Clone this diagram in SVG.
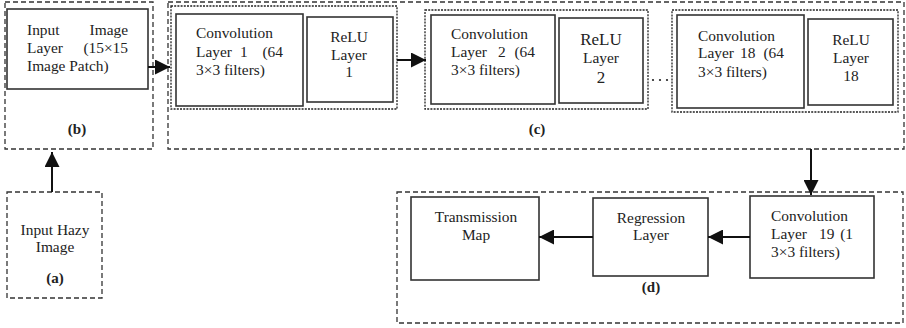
<svg xmlns="http://www.w3.org/2000/svg" width="906" height="328" viewBox="0 0 906 328">
<defs>
<style>
.t{font-family:"Liberation Serif","Times New Roman",serif;font-size:15.4px;fill:#222}
.m{text-anchor:middle}
.e{text-anchor:end}
.b{font-weight:bold;font-size:15px}
.box{fill:#fff;stroke:#333;stroke-width:1.6}
.dash{fill:none;stroke:#333;stroke-width:1.3;stroke-dasharray:5 3}
.dot{fill:none;stroke:#222;stroke-width:1.3;stroke-dasharray:2 1.2}
.ln{fill:none;stroke:#111;stroke-width:2}
</style>
<marker id="ah" markerUnits="userSpaceOnUse" markerWidth="15" markerHeight="15" refX="15" refY="7.5" orient="auto">
<path d="M0,0 L15,7.5 L0,15 z" fill="#111"/>
</marker>
</defs>
<rect width="906" height="328" fill="#fff"/>

<g id="group-b">
<rect class="dash" x="5" y="2" width="148" height="147"/>
<text class="t b m" x="77" y="134">(b)</text>
</g>
<g id="group-c">
<rect class="dash" x="168" y="2" width="736" height="147"/>
<text class="t b m" x="537" y="134">(c)</text>
</g>
<g id="group-d">
<rect class="dash" x="397" y="192" width="506" height="131"/>
<text class="t b m" x="651" y="292">(d)</text>
</g>

<g id="node-a">
<rect class="dash" x="7" y="192" width="95" height="106"/>
<text class="t m" x="55" y="235">Input Hazy</text>
<text class="t m" x="55" y="252">Image</text>
<text class="t b m" x="55" y="283">(a)</text>
</g>

<g id="node-input">
<rect class="box" x="7" y="9" width="141" height="80"/>
<text class="t" x="27" y="35">Input</text>
<text class="t e" x="128" y="35">Image</text>
<text class="t" x="27" y="53">Layer</text>
<text class="t e" x="128" y="53">(15×15</text>
<text class="t" x="27" y="71">Image Patch)</text>
</g>

<g id="block-1">
<rect class="dot" x="171" y="6" width="226" height="103"/>
<g id="conv1">
<rect class="box" x="176" y="14" width="127" height="92"/>
<text class="t" x="196" y="38">Convolution</text>
<text class="t" x="196" y="57">Layer</text>
<text class="t" x="240" y="57">1</text>
<text class="t e" x="283" y="57">(64</text>
<text class="t" x="196" y="75">3×3 filters)</text>
</g>
<g id="relu1">
<rect class="box" x="307" y="17" width="86" height="85"/>
<text class="t m" x="349" y="42">ReLU</text>
<text class="t m" x="349" y="60">Layer</text>
<text class="t m" x="349" y="77">1</text>
</g>
</g>

<g id="block-2">
<rect class="dot" x="425" y="10" width="223" height="99"/>
<g id="conv2">
<rect class="box" x="431" y="15" width="124" height="89"/>
<text class="t" x="451" y="39">Convolution</text>
<text class="t" x="451" y="57">Layer</text>
<text class="t" x="498" y="57">2</text>
<text class="t e" x="535" y="57">(64</text>
<text class="t" x="451" y="75">3×3 filters)</text>
</g>
<g id="relu2">
<rect class="box" x="559" y="18" width="84" height="85"/>
<text class="t m" x="601" y="45" style="font-size:17px">ReLU</text>
<text class="t m" x="601" y="63">Layer</text>
<text class="t m" x="601" y="83" style="font-size:17px">2</text>
</g>
</g>

<g id="ellipsis">
<circle cx="653" cy="80" r="1.1" fill="#222"/>
<circle cx="660" cy="80" r="1.1" fill="#222"/>
<circle cx="667" cy="80" r="1.1" fill="#222"/>
</g>

<g id="block-18">
<rect class="dot" x="672" y="10" width="226" height="102"/>
<g id="conv18">
<rect class="box" x="677" y="15" width="127" height="93"/>
<text class="t" x="698" y="41">Convolution</text>
<text class="t" x="698" y="58">Layer</text>
<text class="t" x="740" y="58">18</text>
<text class="t e" x="784" y="58">(64</text>
<text class="t" x="698" y="77">3×3 filters)</text>
</g>
<g id="relu18">
<rect class="box" x="808" y="19" width="85" height="86"/>
<text class="t m" x="851" y="45">ReLU</text>
<text class="t m" x="851" y="63">Layer</text>
<text class="t m" x="851" y="81">18</text>
</g>
</g>

<g id="conv19">
<rect class="box" x="750" y="196" width="124" height="82"/>
<text class="t" x="771" y="221">Convolution</text>
<text class="t" x="771" y="239">Layer</text>
<text class="t" x="819" y="239">19</text>
<text class="t e" x="853" y="239">(1</text>
<text class="t" x="771" y="257">3×3 filters)</text>
</g>
<g id="regression">
<rect class="box" x="593" y="198" width="115" height="78"/>
<text class="t m" x="651" y="223">Regression</text>
<text class="t m" x="651" y="240">Layer</text>
</g>
<g id="transmission">
<rect class="box" x="411" y="197" width="128" height="83"/>
<text class="t m" x="476" y="222">Transmission</text>
<text class="t m" x="476" y="240">Map</text>
</g>

<g id="connectors">
<line class="ln" x1="52" y1="192" x2="52" y2="152" marker-end="url(#ah)"/>
<line class="ln" x1="148" y1="67" x2="170" y2="67" marker-end="url(#ah)"/>
<line class="ln" x1="397" y1="60" x2="426" y2="60" marker-end="url(#ah)"/>
<line class="ln" x1="811" y1="149" x2="811" y2="195" marker-end="url(#ah)"/>
<line class="ln" x1="750" y1="237" x2="708" y2="237" marker-end="url(#ah)"/>
<line class="ln" x1="593" y1="237" x2="539" y2="237" marker-end="url(#ah)"/>
</g>
</svg>
